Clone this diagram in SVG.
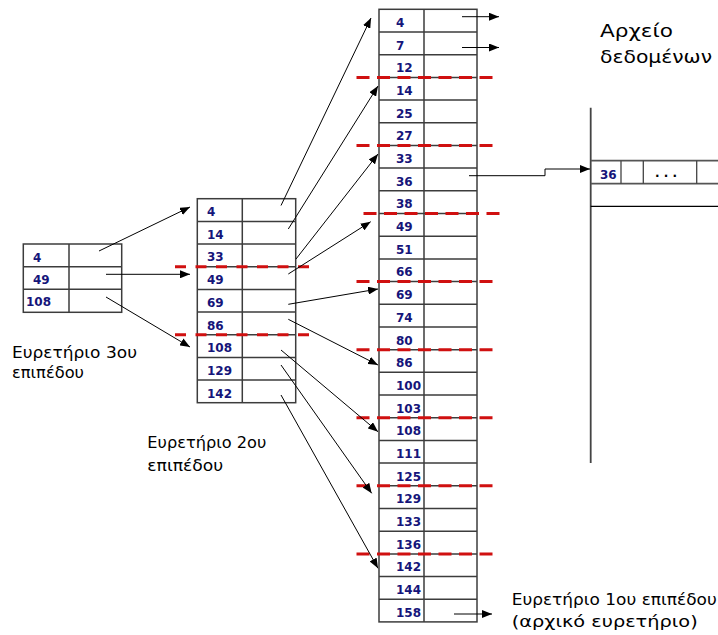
<svg xmlns="http://www.w3.org/2000/svg" width="718" height="635" viewBox="0 0 718 635">
<style>
.grid{fill:none;stroke:#3c3c3c;stroke-width:1.5}
.num{font-family:"DejaVu Sans","Liberation Sans",sans-serif;font-weight:bold;font-size:12px;fill:#15157a}
.lbl{font-family:"DejaVu Sans","Liberation Sans",sans-serif;font-size:15.5px;fill:#000}
.ttl{font-family:"DejaVu Sans","Liberation Sans",sans-serif;font-size:17px;fill:#000}
.red{fill:none;stroke:#d01010;stroke-width:3;stroke-dasharray:13 7.5}
.red2{fill:none;stroke:#d01010;stroke-width:3;stroke-dasharray:11 9.5}
.con{fill:none;stroke:#000;stroke-width:1;marker-end:url(#ah)}
</style>
<defs>
<marker id="ah" markerUnits="userSpaceOnUse" markerWidth="11" markerHeight="8" refX="10" refY="4" orient="auto">
<path d="M0,0 L10,4 L0,8 z" fill="#000"/>
</marker>
</defs>
<rect width="718" height="635" fill="#fff"/>

<g id="level3">
<rect class="grid" x="23.3" y="244" width="98.4" height="68.3"/>
<path class="grid" d="M69,244 V312.3 M23.3,266.7 H121.7 M23.3,289.3 H121.7"/>
<text class="num" x="33" y="261.8">4</text>
<text class="num" x="33" y="284.3">49</text>
<text class="num" x="26" y="306.3">108</text>
</g>

<g id="level2">
<rect class="grid" x="197.3" y="198.7" width="98.4" height="204"/>
<path class="grid" d="M242.3,198.7 V402.7 M197.3,221.4 H295.7 M197.3,244 H295.7 M197.3,266.7 H295.7 M197.3,289.4 H295.7 M197.3,312.1 H295.7 M197.3,334.7 H295.7 M197.3,357.4 H295.7 M197.3,380.1 H295.7"/>
<text class="num" x="207" y="216.1">4</text>
<text class="num" x="207" y="238.8">14</text>
<text class="num" x="207" y="261.4">33</text>
<text class="num" x="207" y="284.1">49</text>
<text class="num" x="207" y="306.8">69</text>
<text class="num" x="207" y="329.5">86</text>
<text class="num" x="207" y="352.1">108</text>
<text class="num" x="207" y="374.8">129</text>
<text class="num" x="207" y="397.5">142</text>
</g>

<g id="level1">
<rect class="grid" x="379" y="9.3" width="98" height="612.6"/>
<path class="grid" d="M424,9.3 V621.9 M379,32 H477 M379,54.7 H477 M379,77.4 H477 M379,100.1 H477 M379,122.8 H477 M379,145.4 H477 M379,168.1 H477 M379,190.8 H477 M379,213.5 H477 M379,236.2 H477 M379,258.9 H477 M379,281.6 H477 M379,304.3 H477 M379,327 H477 M379,349.7 H477 M379,372.3 H477 M379,395 H477 M379,417.7 H477 M379,440.4 H477 M379,463.1 H477 M379,485.8 H477 M379,508.5 H477 M379,531.2 H477 M379,553.9 H477 M379,576.6 H477 M379,599.2 H477"/>
<text class="num" x="396" y="26.8">4</text>
<text class="num" x="396" y="49.5">7</text>
<text class="num" x="396" y="72.2">12</text>
<text class="num" x="396" y="94.9">14</text>
<text class="num" x="396" y="117.6">25</text>
<text class="num" x="396" y="140.3">27</text>
<text class="num" x="396" y="162.9">33</text>
<text class="num" x="396" y="185.6">36</text>
<text class="num" x="396" y="208.3">38</text>
<text class="num" x="396" y="231">49</text>
<text class="num" x="396" y="253.7">51</text>
<text class="num" x="396" y="276.4">66</text>
<text class="num" x="396" y="299.1">69</text>
<text class="num" x="396" y="321.8">74</text>
<text class="num" x="396" y="344.5">80</text>
<text class="num" x="396" y="367.2">86</text>
<text class="num" x="396" y="389.8">100</text>
<text class="num" x="396" y="412.5">103</text>
<text class="num" x="396" y="435.2">108</text>
<text class="num" x="396" y="457.9">111</text>
<text class="num" x="396" y="480.6">125</text>
<text class="num" x="396" y="503.3">129</text>
<text class="num" x="396" y="526">133</text>
<text class="num" x="396" y="548.7">136</text>
<text class="num" x="396" y="571.4">142</text>
<text class="num" x="396" y="594.1">144</text>
<text class="num" x="396" y="616.7">158</text>
</g>

<g id="datafile">
<path fill="none" stroke="#444" stroke-width="1.8" d="M590.7,107.7 V463"/>
<path fill="none" stroke="#555" stroke-width="1.8" d="M590.7,160.7 H718 M590.7,183.7 H718"/>
<path fill="none" stroke="#000" stroke-width="1.2" d="M590.7,206.3 H718"/>
<path fill="none" stroke="#444" stroke-width="1.3" d="M621,160.7 V183.7 M643.3,160.7 V183.7 M696.7,160.7 V183.7"/>
<text class="num" x="600" y="179">36</text>
<text x="666" y="177" text-anchor="middle" font-family="DejaVu Sans, sans-serif" font-weight="bold" font-size="12" fill="#000">. . .</text>
<text class="ttl" x="600" y="36.5" textLength="73" lengthAdjust="spacingAndGlyphs">Αρχείο</text>
<text class="ttl" x="600" y="63" textLength="112" lengthAdjust="spacingAndGlyphs">δεδομένων</text>
</g>

<g id="separators">
<path class="red" d="M356.5,77.4 H493 M356.5,145.4 H493 M356.5,281.6 H493 M356.5,349.7 H493 M356.5,417.7 H493 M356.5,485.8 H493 M356.5,553.9 H493"/>
<path class="red" d="M363.5,213.5 H500"/>
<path class="red2" d="M175,266.7 H311 M175,334.7 H311"/>
</g>

<g id="connectors">
<line class="con" x1="99" y1="251" x2="190" y2="207"/>
<line class="con" x1="106" y1="274.3" x2="190" y2="274.3"/>
<line class="con" x1="106" y1="297" x2="190" y2="347"/>
<line class="con" x1="281" y1="205.5" x2="371" y2="18"/>
<line class="con" x1="288.3" y1="229" x2="378" y2="86"/>
<line class="con" x1="296" y1="259" x2="378" y2="154"/>
<line class="con" x1="288.3" y1="274" x2="370.7" y2="221.7"/>
<line class="con" x1="288.3" y1="304.3" x2="378" y2="289"/>
<line class="con" x1="288.3" y1="319.3" x2="378" y2="365"/>
<line class="con" x1="281" y1="350" x2="378" y2="431.7"/>
<line class="con" x1="281" y1="365" x2="371.7" y2="493.3"/>
<line class="con" x1="281" y1="395" x2="378" y2="568.3"/>
<line class="con" x1="462" y1="16.7" x2="499" y2="16.7"/>
<line class="con" x1="462" y1="47.5" x2="499" y2="47.5"/>
<line class="con" x1="454" y1="614" x2="492" y2="614"/>
<polyline class="con" points="469,175.7 545,175.7 545,169 590,169"/>
</g>

<g id="labels">
<text class="lbl" x="12" y="358" textLength="125" lengthAdjust="spacingAndGlyphs">Ευρετήριο 3ου</text>
<text class="lbl" x="12" y="378" textLength="72" lengthAdjust="spacingAndGlyphs">επιπέδου</text>
<text class="lbl" x="147.3" y="448.3" textLength="119" lengthAdjust="spacingAndGlyphs">Ευρετήριο 2ου</text>
<text class="lbl" x="147.3" y="470.7" textLength="76" lengthAdjust="spacingAndGlyphs">επιπέδου</text>
<text class="lbl" x="511.7" y="605" textLength="205" lengthAdjust="spacingAndGlyphs">Ευρετήριο 1ου επιπέδου</text>
<text class="lbl" x="511.7" y="626.7" textLength="186" lengthAdjust="spacingAndGlyphs">(αρχικό ευρετήριο)</text>
</g>
</svg>
